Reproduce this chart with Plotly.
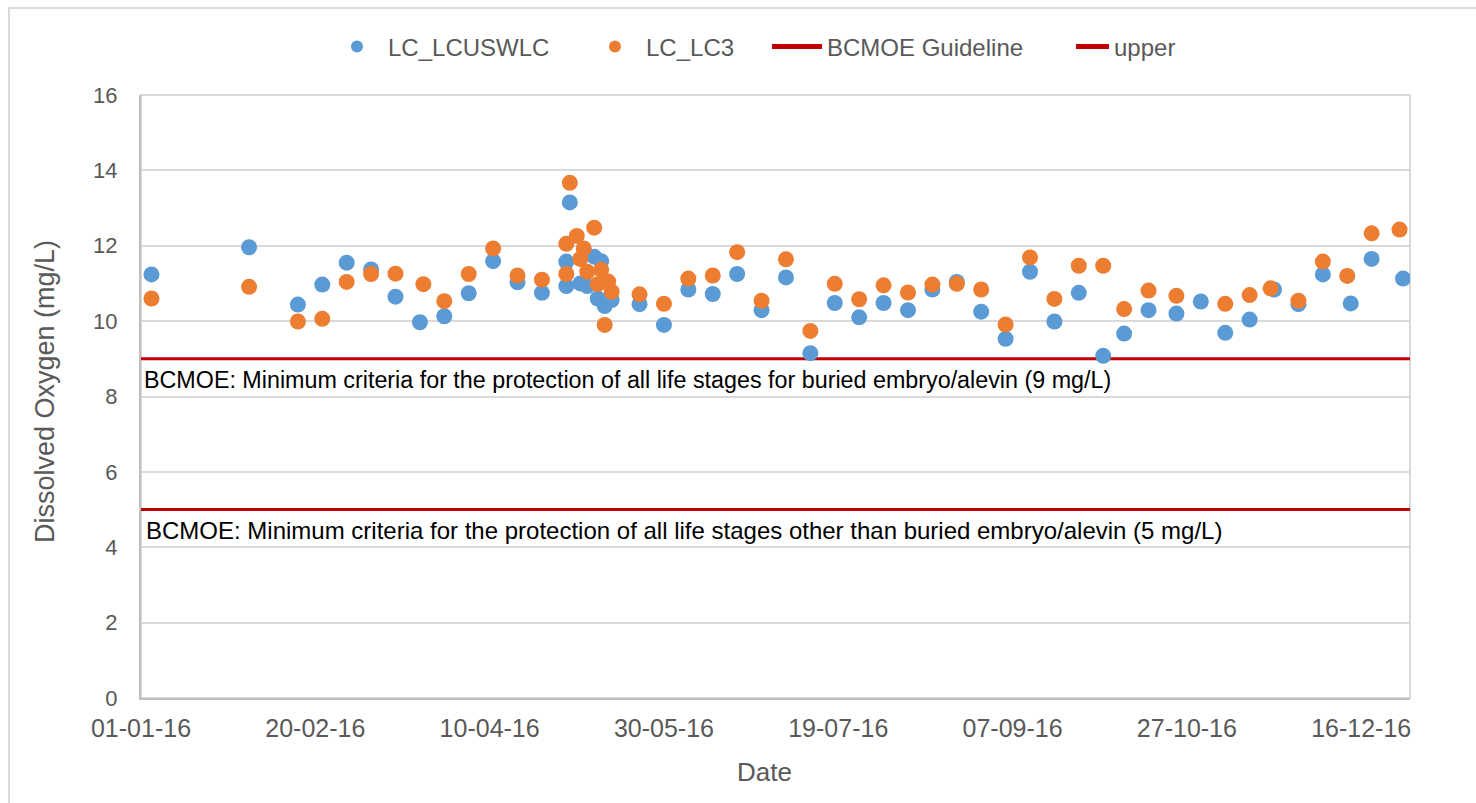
import plotly.graph_objects as go

# Dissolved oxygen samples, 2016
lcuswlc_dates = [
    "2016-01-04", "2016-02-01", "2016-02-15", "2016-02-22", "2016-02-29", "2016-03-07",
    "2016-03-14", "2016-03-21", "2016-03-28", "2016-04-04", "2016-04-11", "2016-04-18",
    "2016-04-25", "2016-05-02", "2016-05-02", "2016-05-03", "2016-05-06", "2016-05-08",
    "2016-05-10", "2016-05-11", "2016-05-12", "2016-05-13", "2016-05-15", "2016-05-23",
    "2016-05-30", "2016-06-06", "2016-06-13", "2016-06-20", "2016-06-27", "2016-07-04",
    "2016-07-11", "2016-07-18", "2016-07-25", "2016-08-01", "2016-08-08", "2016-08-15",
    "2016-08-22", "2016-08-29", "2016-09-05", "2016-09-12", "2016-09-19", "2016-09-26",
    "2016-10-03", "2016-10-09", "2016-10-16", "2016-10-24", "2016-10-31", "2016-11-07",
    "2016-11-14", "2016-11-21", "2016-11-28", "2016-12-05", "2016-12-13", "2016-12-19",
    "2016-12-28",
]
lcuswlc_do = [
    11.24, 11.96, 10.44, 10.97, 11.55, 11.37,
    10.65, 9.97, 10.13, 10.74, 11.59, 11.03,
    10.75, 10.93, 11.58, 13.15, 11.00, 10.93,
    11.71, 10.60, 11.59, 10.40, 10.56, 10.45,
    9.90, 10.84, 10.72, 11.25, 10.29, 11.16,
    9.15, 10.48, 10.10, 10.48, 10.29, 10.84,
    11.04, 10.25, 9.53, 11.31, 9.99, 10.75,
    9.08, 9.67, 10.29, 10.20, 10.52, 9.69,
    10.04, 10.84, 10.45, 11.24, 10.47, 11.65,
    11.13,
]

lc3_dates = [
    "2016-01-04", "2016-02-01", "2016-02-15", "2016-02-22", "2016-02-29", "2016-03-07",
    "2016-03-14", "2016-03-22", "2016-03-28", "2016-04-04", "2016-04-11", "2016-04-18",
    "2016-04-25", "2016-05-02", "2016-05-02", "2016-05-03", "2016-05-05", "2016-05-06",
    "2016-05-07", "2016-05-08", "2016-05-10", "2016-05-11", "2016-05-12", "2016-05-13",
    "2016-05-14", "2016-05-15", "2016-05-23", "2016-05-30", "2016-06-06", "2016-06-13",
    "2016-06-20", "2016-06-27", "2016-07-04", "2016-07-11", "2016-07-18", "2016-07-25",
    "2016-08-01", "2016-08-08", "2016-08-15", "2016-08-22", "2016-08-29", "2016-09-05",
    "2016-09-12", "2016-09-19", "2016-09-26", "2016-10-03", "2016-10-09", "2016-10-16",
    "2016-10-24", "2016-11-07", "2016-11-14", "2016-11-20", "2016-11-28", "2016-12-05",
    "2016-12-12", "2016-12-19", "2016-12-27",
]
lc3_do = [
    10.60, 10.91, 9.99, 10.06, 11.04, 11.25,
    11.26, 10.98, 10.53, 11.25, 11.93, 11.21,
    11.10, 11.25, 12.05, 13.67, 12.26, 11.65,
    11.93, 11.31, 12.48, 10.98, 11.36, 9.90,
    11.05, 10.78, 10.71, 10.46, 11.13, 11.21,
    11.83, 10.54, 11.64, 9.74, 10.99, 10.58,
    10.95, 10.76, 10.97, 10.99, 10.84, 9.91,
    11.69, 10.59, 11.47, 11.47, 10.32, 10.81,
    10.67, 10.46, 10.69, 10.87, 10.54, 11.58,
    11.20, 12.33, 12.43,
]

# BC MOE dissolved oxygen guidelines (mg/L)
guideline_embryo = 9
guideline_other = 5
x_range = ["2016-01-01", "2016-12-30"]

tick_dates = ["2016-01-01", "2016-02-20", "2016-04-10", "2016-05-30",
              "2016-07-19", "2016-09-07", "2016-10-27", "2016-12-16"]
tick_labels = ["01-01-16", "20-02-16", "10-04-16", "30-05-16",
               "19-07-16", "07-09-16", "27-10-16", "16-12-16"]

y_ticks = [0, 2, 4, 6, 8, 10, 12, 14, 16]

note_embryo = ("BCMOE: Minimum criteria for the protection of all life stages "
               "for buried embryo/alevin (9 mg/L)")
note_other = ("BCMOE: Minimum criteria for the protection of all life stages "
              "other than buried embryo/alevin (5 mg/L)")

FONT = "Arial, 'Liberation Sans', sans-serif"
GREY_TEXT = "#595959"
BLUE = "#5B9BD5"
ORANGE = "#ED7D31"
RED = "#C00000"
GRID = "#D9D9D9"

# plot-area geometry in pixels (used to place legends / titles in paper units)
PLOT_L, PLOT_R, PLOT_T, PLOT_B = 141, 1410, 95, 698
PW, PH = PLOT_R - PLOT_L, PLOT_B - PLOT_T


def px_x(px):
    return (px - PLOT_L) / PW


def px_y(py):
    return (PLOT_B - py) / PH


fig = go.Figure()

fig.add_trace(go.Scatter(
    x=[x_range[0], x_range[1]], y=[guideline_embryo, guideline_embryo],
    mode="lines", name="BCMOE Guideline", line=dict(color=RED, width=3),
    legend="legend3", hoverinfo="skip",
))
fig.add_trace(go.Scatter(
    x=[x_range[0], x_range[1]], y=[guideline_other, guideline_other],
    mode="lines", name="upper", line=dict(color=RED, width=3),
    legend="legend4", hoverinfo="skip",
))
fig.add_trace(go.Scatter(
    x=lcuswlc_dates, y=lcuswlc_do, mode="markers", name="LC_LCUSWLC",
    marker=dict(color=BLUE, size=16, line=dict(width=0)), legend="legend",
))
fig.add_trace(go.Scatter(
    x=lc3_dates, y=lc3_do, mode="markers", name="LC_LC3",
    marker=dict(color=ORANGE, size=16, line=dict(width=0)), legend="legend2",
))

legend_font = dict(family=FONT, size=24, color=GREY_TEXT)
legend_common = dict(orientation="h", yanchor="middle", y=px_y(47), xanchor="left",
                     font=legend_font, bgcolor="rgba(0,0,0,0)", itemsizing="constant")

fig.update_layout(
    width=1476, height=803,
    margin=dict(l=PLOT_L, r=1476 - PLOT_R, t=PLOT_T, b=803 - PLOT_B),
    paper_bgcolor="white", plot_bgcolor="white",
    font=dict(family=FONT, color=GREY_TEXT),
    showlegend=True,
    legend=dict(legend_common, x=px_x(326), itemwidth=52),
    legend2=dict(legend_common, x=px_x(584), itemwidth=52),
    legend3=dict(legend_common, x=px_x(767), itemwidth=50),
    legend4=dict(legend_common, x=px_x(1071), itemwidth=33),
    xaxis=dict(
        range=x_range, type="date",
        tickvals=tick_dates, ticktext=tick_labels,
        tickfont=dict(family=FONT, size=25, color=GREY_TEXT),
        showgrid=False, zeroline=False,
        showline=True, linecolor="#BFBFBF", linewidth=2,
        ticks="", ticklabelstandoff=7,
    ),
    yaxis=dict(
        range=[0, 16], tickvals=y_ticks,
        tickfont=dict(family=FONT, size=22, color=GREY_TEXT),
        showgrid=True, gridcolor=GRID, gridwidth=2,
        zeroline=False,
        showline=True, linecolor="#BFBFBF", linewidth=2,
        ticks="", ticklabelstandoff=17,
    ),
    shapes=[
        # plot area frame
        dict(type="rect", xref="paper", yref="paper", x0=0, x1=1, y0=0, y1=1,
             line=dict(color=GRID, width=2), layer="below"),
        # chart border
        dict(type="rect", xref="paper", yref="paper",
             x0=px_x(9), x1=px_x(1490), y0=px_y(820), y1=px_y(8),
             line=dict(color=GRID, width=2)),
    ],
    annotations=[
        dict(text="Date", xref="paper", yref="paper", x=px_x(764), y=px_y(772),
             xanchor="center", yanchor="middle", showarrow=False,
             font=dict(family=FONT, size=26, color=GREY_TEXT)),
        dict(text="Dissolved Oxygen (mg/L)", xref="paper", yref="paper",
             x=px_x(45), y=px_y(392), xanchor="center", yanchor="middle",
             textangle=-90, showarrow=False,
             font=dict(family=FONT, size=27, color=GREY_TEXT)),
        dict(text=note_embryo, xref="paper", yref="y", x=0, y=guideline_embryo,
             xanchor="left", yanchor="top", xshift=1, yshift=-6, showarrow=False,
             font=dict(family=FONT, size=23.3, color="black"), align="left"),
        dict(text=note_other, xref="paper", yref="y", x=0, y=guideline_other,
             xanchor="left", yanchor="top", xshift=3, yshift=-5, showarrow=False,
             font=dict(family=FONT, size=24.0, color="black"), align="left"),
    ],
)

fig.write_html("out.html")
